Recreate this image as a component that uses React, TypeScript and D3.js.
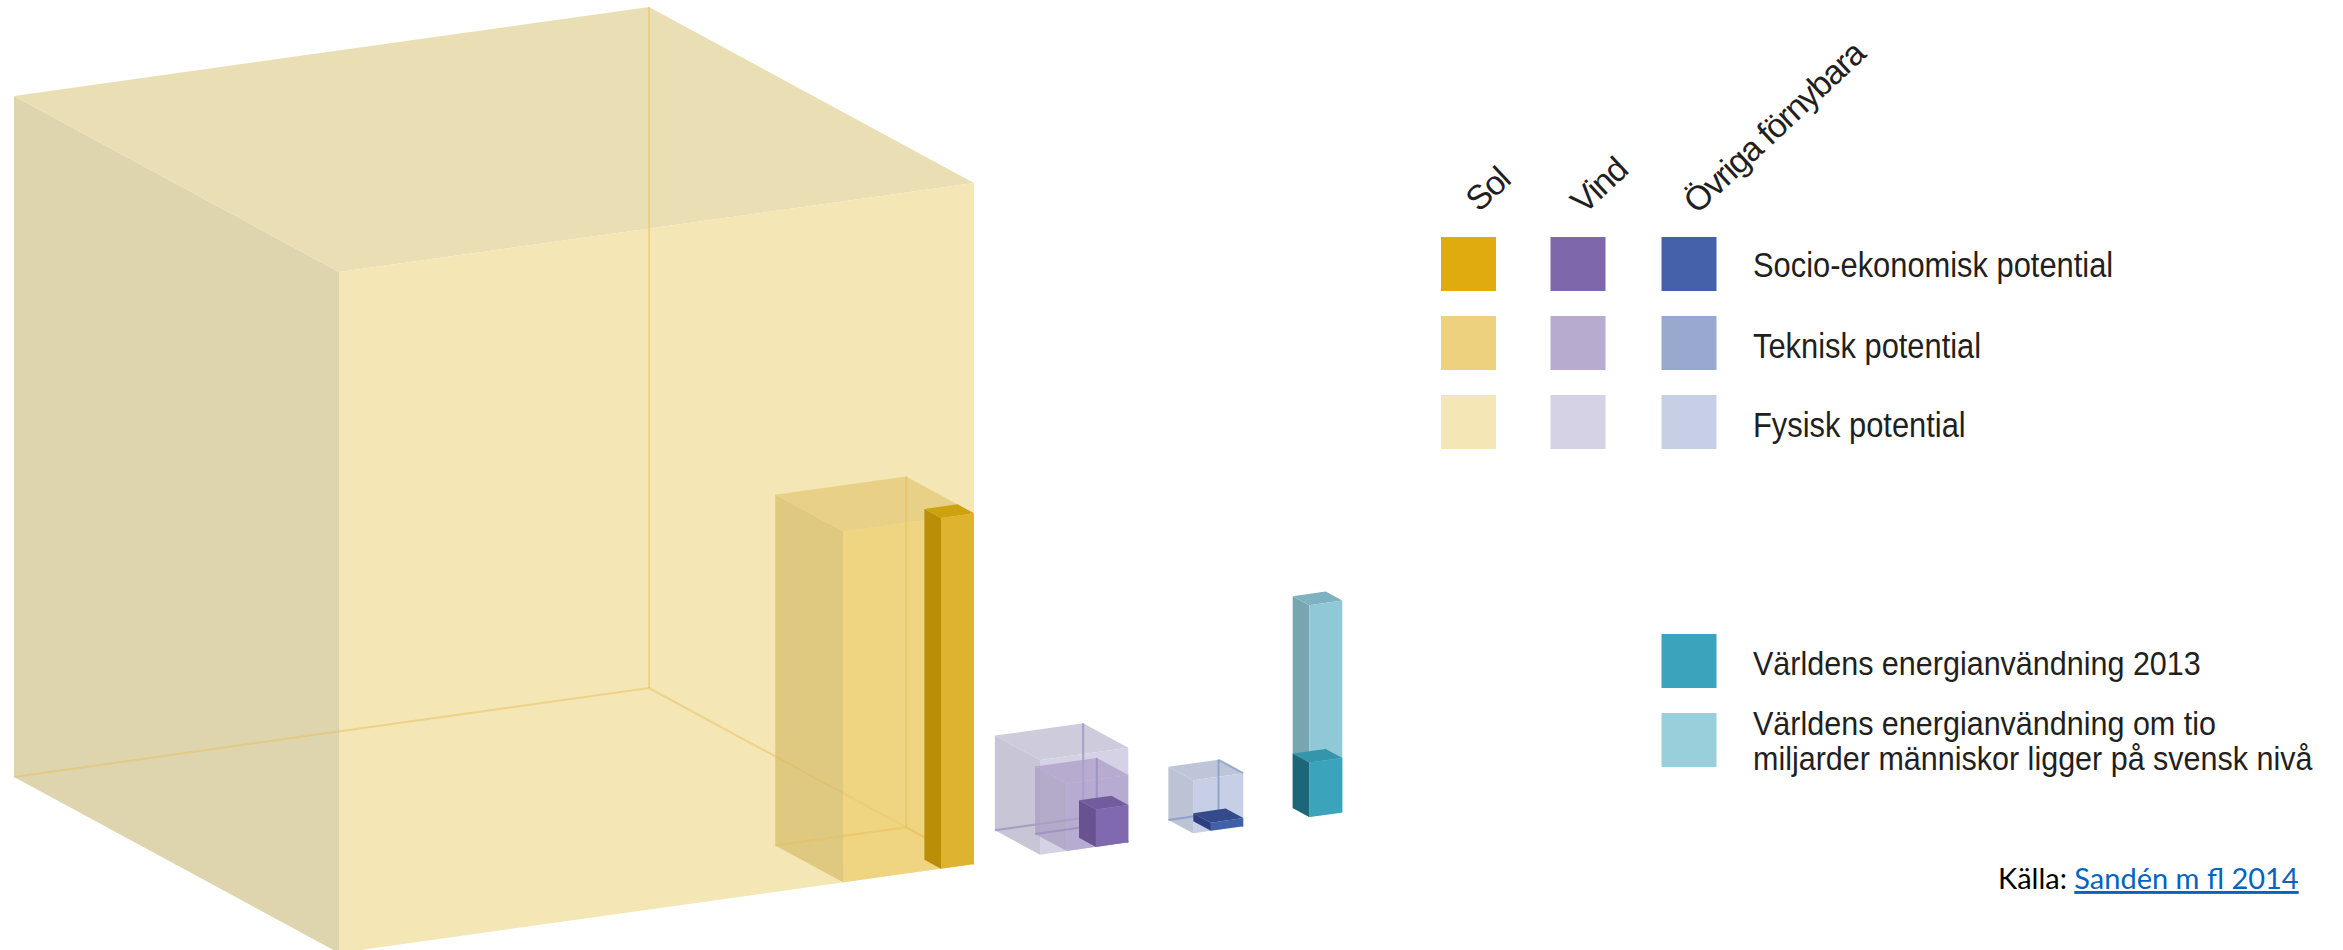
import React from "react";
import * as d3 from "d3";

// Edge lengths of each box, as a share of the largest box (= 100).
const solarPhysical = [100, 100, 100];
const solarTechnical = [20.6, 20.9, 51.5];
const solarSocio = [5.2, 5.1, 51.5];
const windPhysical = [13.9, 13.9, 13.9];
const windTechnical = [9.7, 9.7, 9.9];
const windSocio = [5.1, 5.2, 5.5];
const otherPhysical = [7.9, 7.6, 7.8];
const otherSocio = [5.1, 5.4, 1.2];
const energyFuture = [5.2, 5.1, 31.1];
const energy2013 = [5.2, 5.1, 8];

// Where each group's front-right corner sits along the shared ground line.
const groupOffsets = [0, 24.3, 42.4, 58];

const columnLabels = ["Sol", "Vind", "Övriga förnybara"];
const rowLabels = ["Socio-ekonomisk potential", "Teknisk potential", "Fysisk potential"];
const legendRows = [
  ["#E0AB0E", "#7F67AB", "#4461A9"],
  ["#EDD17F", "#B7ABCF", "#98A8CE"],
  ["#F4E6B5", "#D6D2E5", "#C7CFE6"],
];
const energyLabels = [["Världens energianvändning 2013"], ["Världens energianvändning om tio", "miljarder människor ligger på svensk nivå"]];
const energyColors = ["#3CA3BD", "#98CFDB"];
const sourcePrefix = "Källa: ";
const sourceLink = "Sandén m fl 2014";

// Oblique projection: one scale per screen component of each model axis.
const alongX = d3.scaleLinear().domain([0, 100]).range([0, 635]);
const alongXy = d3.scaleLinear().domain([0, 100]).range([0, -89]);
const depthX = d3.scaleLinear().domain([0, 100]).range([0, -325]);
const depthY = d3.scaleLinear().domain([0, 100]).range([0, -176]);
const heightY = d3.scaleLinear().domain([0, 100]).range([0, -681]);
const ORIGIN = [974, 864];

const project = (x: number, z: number, y: number): [number, number] => [
  ORIGIN[0] + alongX(x) + depthX(z),
  ORIGIN[1] + alongXy(x) + depthY(z) + heightY(y),
];
const polygon = d3.line().curve(d3.curveLinearClosed);

type Look = {
  front: string;
  side: string;
  top: string;
  edge?: string;
  edgeWidth?: number;
  edgeOpacity?: number;
  topEdge?: boolean;
  opacity: number;
};

function Box({ size, at, look }: { size: number[]; at: number; look: Look }) {
  const [w, d, h] = size;
  // Corners: the box's front-right-bottom corner is at model position `at`.
  const c = (r: number, back: number, up: number) => project(at - (1 - r) * w, back * d, up * h);
  const front = polygon([c(0, 0, 1), c(1, 0, 1), c(1, 0, 0), c(0, 0, 0)]) as string;
  const side = polygon([c(0, 1, 1), c(0, 0, 1), c(0, 0, 0), c(0, 1, 0)]) as string;
  const top = polygon([c(0, 1, 1), c(1, 1, 1), c(1, 0, 1), c(0, 0, 1)]) as string;
  const back = d3.line()([c(0, 1, 0), c(1, 1, 0), c(1, 0, 0)]) as string;
  const backPost = d3.line()([c(1, 1, 1), c(1, 1, 0)]) as string;
  const topRim = d3.line()([c(1, 1, 1), c(1, 0, 1)]) as string;
  return (
    <g>
      <path d={side} fill={look.side} fillOpacity={look.opacity} />
      <path d={top} fill={look.top} fillOpacity={look.opacity} />
      <path d={front} fill={look.front} fillOpacity={look.opacity} />
      {look.edge && (
        <g fill="none" stroke={look.edge} strokeWidth={look.edgeWidth ?? 1.5} strokeOpacity={look.edgeOpacity ?? 0.6}>
          <path d={back} />
          <path d={backPost} />
          {look.topEdge && <path d={topRim} />}
        </g>
      )}
    </g>
  );
}

const looks: Record<string, Look> = {
  solarPhysical: { front: "#F4E6B5", side: "#DED5AF", top: "#EADFB4", edge: "#E5C05A", edgeWidth: 2, edgeOpacity: 0.5, opacity: 1 },
  solarTechnical: { front: "#EDCC6B", side: "#D6BA68", top: "#E3C872", edge: "#E5C05A", edgeWidth: 2, edgeOpacity: 0.5, opacity: 0.7 },
  solarSocio: { front: "#DEB330", side: "#BA8E06", top: "#CDA20F", opacity: 1 },
  windPhysical: { front: "#D6D2E5", side: "#C8C5D6", top: "#CECBDC", edge: "#8F88BC", edgeWidth: 2, edgeOpacity: 0.65, opacity: 1 },
  windTechnical: { front: "#AC9ECB", side: "#A89DC0", top: "#AC9FC8", edge: "#8F88BC", edgeWidth: 2, edgeOpacity: 0.65, opacity: 0.75 },
  windSocio: { front: "#8069AF", side: "#685290", top: "#735C9E", opacity: 1 },
  otherPhysical: { front: "#C7CFE6", side: "#BCC3D5", top: "#BEC5D8", edge: "#8396C8", edgeWidth: 2, edgeOpacity: 0.75, topEdge: true, opacity: 1 },
  otherSocio: { front: "#4060A8", side: "#2D3F80", top: "#344A8A", opacity: 1 },
  energyFuture: { front: "#90C8D8", side: "#79A5B0", top: "#7FB2C0", opacity: 1 },
  energy2013: { front: "#3CA3BD", side: "#1D6677", top: "#3596AB", opacity: 1 },
};

const TEXT = "'Liberation Sans', Arial, sans-serif";
const INK = "#231F20";

export default function App() {
  return (
    <svg
      width={2343}
      height={950}
      style={{ position: "absolute", left: 0, top: 0, background: "#fff" }}
      fontFamily={TEXT}
    >
      <Box size={solarPhysical} at={groupOffsets[0]} look={looks.solarPhysical} />
      <Box size={solarTechnical} at={groupOffsets[0]} look={looks.solarTechnical} />
      <Box size={solarSocio} at={groupOffsets[0]} look={looks.solarSocio} />

      <Box size={windPhysical} at={groupOffsets[1]} look={looks.windPhysical} />
      <Box size={windTechnical} at={groupOffsets[1]} look={looks.windTechnical} />
      <Box size={windSocio} at={groupOffsets[1]} look={looks.windSocio} />

      <Box size={otherPhysical} at={groupOffsets[2]} look={looks.otherPhysical} />
      <Box size={otherSocio} at={groupOffsets[2]} look={looks.otherSocio} />

      <Box size={energyFuture} at={groupOffsets[3]} look={looks.energyFuture} />
      <Box size={energy2013} at={groupOffsets[3]} look={looks.energy2013} />

      {/* Source-by-potential legend */}
      {columnLabels.map((label, i) => (
        <text
          key={label}
          transform={`translate(${[1479, 1584, 1697][i]},${[213, 215, 215][i]}) rotate(-43)`}
          fontSize={34}
          fill={INK}
          letterSpacing={-1.3}
        >
          {label}
        </text>
      ))}
      {legendRows.map((row, r) =>
        row.map((color, c) => (
          <rect key={color} x={[1441, 1550.5, 1661.5][c]} y={237 + r * 79} width={55} height={54} fill={color} />
        )),
      )}
      {rowLabels.map((label, r) => (
        <text key={label} transform={`translate(1753,${[277, 358, 437][r]}) scale(0.895,1)`} fontSize={34.5} fill={INK}>
          {label}
        </text>
      ))}

      {/* World energy use legend */}
      {energyColors.map((color, i) => (
        <rect key={color} x={1661.5} y={634 + i * 79} width={55} height={54} fill={color} />
      ))}
      {energyLabels.map((lines, i) =>
        lines.map((line, j) => (
          <text key={line} transform={`translate(1753,${675 + i * 60 + j * 35}) scale(0.925,1)`} fontSize={33} fill={INK}>
            {line}
          </text>
        )),
      )}

      <text x={1998} y={889} fontSize={29} fontFamily="Lato, sans-serif" fill="#000">
        {sourcePrefix}
        <tspan fill="#0563C1" textDecoration="underline">
          {sourceLink}
        </tspan>
      </text>
    </svg>
  );
}
